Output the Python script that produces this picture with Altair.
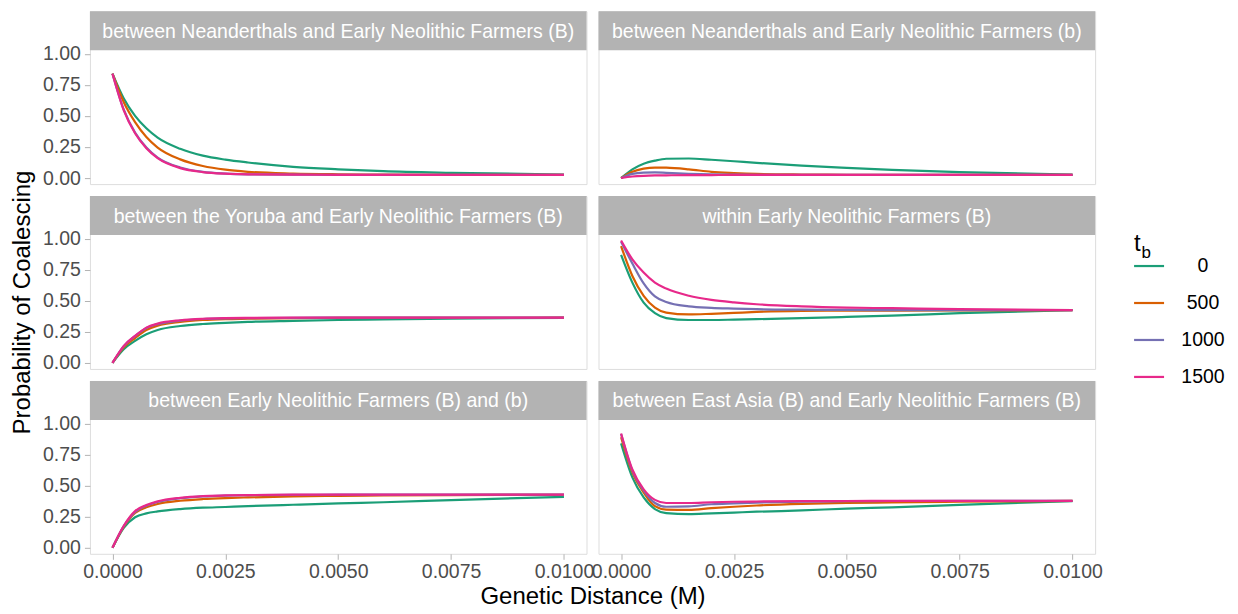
import altair as alt
import pandas as pd

FONT = "Liberation Sans"

X = [0, 0.00025, 0.0005, 0.00075, 0.001, 0.0015, 0.002, 0.0025, 0.003, 0.004, 0.005, 0.006, 0.0075, 0.01]
TB = ["0", "500", "1000", "1500"]
COLORS = ["#1B9E77", "#D95F02", "#7570B3", "#E7298A"]
PANELS = [
    "between Neanderthals and Early Neolithic Farmers (B)",
    "between Neanderthals and Early Neolithic Farmers (b)",
    "between the Yoruba and Early Neolithic Farmers (B)",
    "within Early Neolithic Farmers (B)",
    "between Early Neolithic Farmers (B) and (b)",
    "between East Asia (B) and Early Neolithic Farmers (B)",
]
X_TICKS = [0, 0.0025, 0.005, 0.0075, 0.01]
Y_TICKS = [0, 0.25, 0.5, 0.75, 1.0]

# panel 1
p1_0 = [.84, .64, .50, .40, .325, .235, .18, .148, .125, .09, .07, .055, .042, .028]
p1_500 = [.84, .61, .45, .33, .245, .15, .097, .067, .05, .036, .03, .027, .025, .025]
p1_1000 = [.84, .55, .365, .245, .165, .085, .05, .036, .03, .027, .026, .025, .025, .025]
p1_1500 = [.84, .545, .36, .24, .16, .08, .048, .035, .03, .027, .026, .025, .025, .025]
# panel 2
p2_0 = [0, .07, .115, .14, .155, .157, .147, .135, .122, .10, .082, .066, .048, .027]
p2_500 = [0, .05, .075, .084, .083, .07, .05, .04, .033, .028, .026, .025, .025, .025]
p2_1000 = [0, .033, .043, .045, .042, .034, .029, .027, .026, .025, .025, .025, .025, .025]
p2_1500 = [0, .012, .018, .021, .022, .023, .024, .025, .025, .025, .025, .025, .025, .025]
# panel 3
p3_0 = [0, .11, .177, .23, .265, .297, .313, .322, .33, .338, .345, .35, .356, .362]
p3_500 = [0, .125, .20, .265, .30, .33, .345, .352, .355, .36, .362, .363, .363, .364]
p3_1000 = [0, .135, .215, .28, .312, .34, .353, .358, .36, .363, .364, .364, .364, .365]
p3_1500 = [0, .137, .217, .284, .316, .343, .355, .36, .362, .364, .365, .365, .365, .365]
# panel 4
p4_0 = [.87, .646, .485, .40, .36, .345, .345, .348, .352, .36, .37, .38, .40, .425]
p4_500 = [.94, .70, .54, .445, .405, .39, .395, .402, .41, .418, .42, .421, .422, .424]
p4_1000 = [.975, .80, .64, .535, .49, .455, .443, .437, .432, .428, .426, .425, .425, .425]
p4_1500 = [.985, .834, .727, .646, .598, .54, .507, .487, .472, .455, .445, .44, .432, .425]
# panel 5
p5_0 = [0, .16, .245, .276, .292, .311, .322, .328, .335, .346, .357, .366, .383, .41]
p5_500 = [0, .17, .28, .325, .352, .378, .392, .40, .405, .413, .418, .421, .424, .426]
p5_1000 = [0, .175, .288, .338, .368, .398, .413, .42, .423, .426, .427, .428, .428, .428]
p5_1500 = [0, .177, .295, .343, .373, .402, .416, .421, .424, .427, .428, .428, .428, .428]
# panel 6
p6_0 = [.84, .566, .405, .311, .279, .271, .277, .283, .29, .30, .315, .325, .345, .375]
p6_500 = [.89, .606, .445, .335, .307, .305, .318, .33, .34, .353, .36, .365, .37, .377]
p6_1000 = [.915, .62, .46, .36, .33, .333, .35, .357, .363, .37, .374, .376, .377, .377]
p6_1500 = [.92, .63, .47, .385, .36, .36, .366, .37, .372, .375, .376, .377, .377, .377]

SERIES = [
    [p1_0, p1_500, p1_1000, p1_1500],
    [p2_0, p2_500, p2_1000, p2_1500],
    [p3_0, p3_500, p3_1000, p3_1500],
    [p4_0, p4_500, p4_1000, p4_1500],
    [p5_0, p5_500, p5_1000, p5_1500],
    [p6_0, p6_500, p6_1000, p6_1500],
]

rows = []
for pi, panel in enumerate(PANELS):
    for si, tb in enumerate(TB):
        for x, y in zip(X, SERIES[pi][si]):
            rows.append({"panel": panel, "tb": tb, "x": x, "y": y})
df = pd.DataFrame(rows)

W, H, SH = 497, 134, 39
CH = SH + H
GREY = "#B3B3B3"
color_scale = alt.Scale(domain=TB, range=COLORS)


def cell(pi, show_x, show_y, ytitle=None, xtitle=None):
    if show_x:
        x_axis = alt.Axis(values=X_TICKS, format=".4f", grid=False, domain=False,
                          tickColor=GREY, tickSize=5.5, tickWidth=1, labelPadding=3,
                          labelFontSize=19.5, labelColor="#4D4D4D", labelFont=FONT,
                          title=xtitle if xtitle else None, titleFont=FONT, titleFontSize=24,
                          titleFontWeight="normal", titleColor="#000000",
                          titleX=503, titlePadding=4)
    else:
        x_axis = None
    if show_y:
        y_axis = alt.Axis(values=Y_TICKS, format=".2f", grid=False, domain=False,
                          tickColor=GREY, tickSize=5.5, tickWidth=1, labelPadding=4,
                          labelFontSize=19.5, labelColor="#4D4D4D", labelFont=FONT,
                          title=ytitle if ytitle else None, titleFont=FONT, titleFontSize=24,
                          titleFontWeight="normal", titleColor="#000000", titlePadding=8,
                          titleY=SH + H / 2)
    else:
        y_axis = None
    base = alt.Chart(pd.DataFrame({"label": [PANELS[pi]]}))
    rect = base.mark_rect(color=GREY).encode(
        x=alt.value(0), x2=alt.value(W), y=alt.value(0), y2=alt.value(SH))
    text = base.mark_text(color="white", fontSize=19.5, font=FONT, align="center", baseline="middle").encode(
        text="label:N", x=alt.value(W / 2), y=alt.value(SH / 2 + 1))
    layers = []
    for tb in TB:
        d = df[(df.panel == PANELS[pi]) & (df.tb == tb)]
        layers.append(
            alt.Chart(d).mark_line(strokeWidth=2.2, interpolate="monotone").encode(
                x=alt.X("x:Q", scale=alt.Scale(domain=[-0.0005, 0.0105], nice=False, zero=False), axis=x_axis),
                y=alt.Y("y:Q", scale=alt.Scale(domain=[-0.049, 1.029], range=[CH, SH], nice=False, zero=False),
                        axis=y_axis),
                color=alt.Color("tb:N", scale=color_scale, legend=None),
            )
        )
    return alt.layer(*layers, rect, text).properties(width=W, height=CH)


def blank():
    return alt.Chart(pd.DataFrame({"t": [""]})).mark_text().encode(text="t:N").properties(
        width=125, height=CH, view=alt.ViewBackground(stroke="transparent"))


# legend (placed in row 2, column 3)
leg_df = pd.DataFrame({"tb": TB, "i": list(range(len(TB)))})
yenc = alt.Y("i:Q", scale=alt.Scale(domain=[0, 3], range=[70, 181]), axis=None)
lbase = alt.Chart(leg_df)
leg_lines = lbase.mark_rule(strokeWidth=2.2).encode(
    x=alt.value(27), x2=alt.value(57), y=yenc,
    color=alt.Color("tb:N", scale=color_scale, legend=None))
leg_text = lbase.mark_text(fontSize=19.5, font=FONT, align="center", baseline="middle", color="#000000").encode(
    x=alt.value(96), y=yenc, text="tb:N")
tbase = alt.Chart(pd.DataFrame({"t": ["t"], "b": ["b"]}))
leg_t = tbase.mark_text(fontSize=24, font=FONT, align="left", baseline="middle", color="#000000").encode(
    x=alt.value(27), y=alt.value(48), text="t:N")
leg_b = tbase.mark_text(fontSize=17, font=FONT, align="left", baseline="middle", color="#000000").encode(
    x=alt.value(34.5), y=alt.value(57), text="b:N")
legend = alt.layer(leg_lines, leg_text, leg_t, leg_b).properties(
    width=125, height=CH, view=alt.ViewBackground(stroke="transparent"))

cells = [
    cell(0, False, True), cell(1, False, False), blank(),
    cell(2, False, True, ytitle="Probability of Coalescing"), cell(3, False, False), legend,
    cell(4, True, True, xtitle="Genetic Distance (M)"), cell(5, True, False),
]

chart = alt.concat(*cells, columns=3, spacing=12, bounds="flush").properties(
    padding={"left": 10, "top": 10, "right": 5, "bottom": 5}
).configure_view(stroke=GREY, strokeWidth=1.2).configure(font=FONT)

chart.save("out.html", embed_options={"renderer": "svg", "actions": False})
